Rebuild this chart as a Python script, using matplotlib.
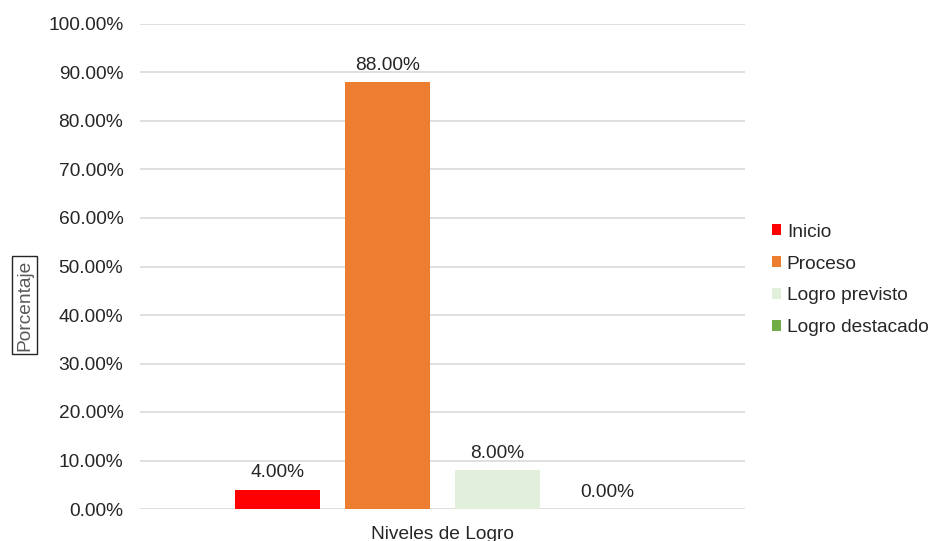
import matplotlib
matplotlib.use("Agg")
import matplotlib.pyplot as plt
from matplotlib.patches import Patch

plt.rcParams['font.family'] = ['Liberation Sans', 'DejaVu Sans']

categories = ["Inicio", "Proceso", "Logro previsto", "Logro destacado"]
values = [4.0, 88.0, 8.0, 0.0]
colors = ["#ff0000", "#ed7d31", "#e2efda", "#70ad47"]
group_label = "Niveles de Logro"
y_ticks = [0, 10, 20, 30, 40, 50, 60, 70, 80, 90, 100]

W, H = 933, 541
fig = plt.figure(figsize=(W / 100, H / 100), dpi=100)
ax = fig.add_axes([140 / W, 1 - 509 / H, 605 / W, 485 / H])

n = len(values)
step = 0.1818
width = 0.142
offsets = [(i - (n - 1) / 2) * step for i in range(n)]

fs = 13.8
for off, v, c, name in zip(offsets, values, colors, categories):
    ax.bar(off, v, width=width, color=c, label=name, zorder=3)
    ax.annotate(f"{v:.2f}%", (off, v), xytext=(0, 6), textcoords="offset points",
                ha="center", va="bottom", fontsize=fs, color="#262626")

ax.set_xlim(-0.5, 0.5)
ax.set_ylim(0, 100)
ax.set_yticks(y_ticks)
ax.set_yticklabels([f"{t:.2f}%" for t in y_ticks], fontsize=fs, color="#262626")
ax.set_xticks([0])
ax.set_xticklabels([group_label], fontsize=fs, color="#262626")
ax.tick_params(axis="x", length=0, pad=12)
ax.tick_params(axis="y", length=0, pad=12)
ax.yaxis.grid(True, color="#d9d9d9", linewidth=1.2, zorder=0)
for s in ax.spines.values():
    s.set_visible(False)

fig.text(24.5 / W, 1 - 305 / H, "Porcentaje", rotation=90, ha="center", va="center",
         fontsize=fs, color="#595959",
         bbox=dict(boxstyle="square,pad=0.2", facecolor="white",
                   edgecolor="#262626", linewidth=1.0))

handles = [Patch(facecolor=c, edgecolor="none", label=l) for c, l in zip(colors, categories)]
fig.legend(handles=handles, loc="center left", bbox_to_anchor=(772 / W, 1 - 280 / H),
           frameon=False, fontsize=fs, handlelength=0.47, handleheight=0.47,
           handletextpad=0.3, labelspacing=0.78, labelcolor="#262626",
           borderpad=0, borderaxespad=0)

fig.savefig("out.png", dpi=100)
